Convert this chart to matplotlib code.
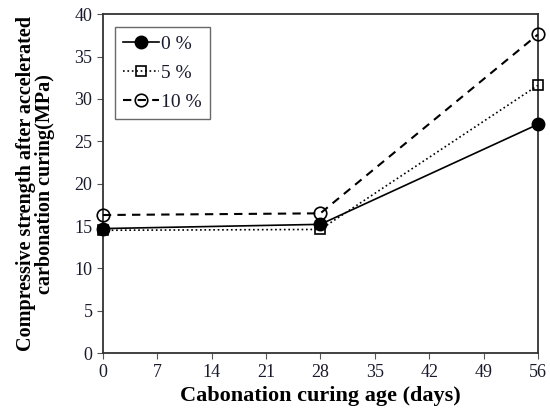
import matplotlib.pyplot as plt

# Data
days = [0, 28, 56]
s0 = [14.7, 15.2, 27.0]
s5 = [14.5, 14.6, 31.6]
s10 = [16.3, 16.5, 37.6]

plt.rcParams['font.family'] = ['Liberation Serif', 'DejaVu Serif']

fig = plt.figure(figsize=(5.5, 4.16), dpi=100)
ax = fig.add_axes([0.187, 0.151, 0.791, 0.815])

ax.plot(days, s0, '-', color='black', lw=1.2, marker='o', ms=9,
        mfc='black', mec='black', label='0 %', clip_on=False, zorder=3)
ax.plot(days, s5, ':', color='black', lw=1.2, marker='s', ms=7,
        mfc='none', mec='black', mew=1.2, label='5 %', clip_on=False, zorder=3)
ax.plot(days, s10, '--', color='black', lw=1.5, dashes=(4, 3), marker='o', ms=9,
        mfc='none', mec='black', mew=1.2, label='10 %', clip_on=False, zorder=3)

ax.set_xlim(0, 56)
ax.set_ylim(0, 40)
ax.set_xticks(range(0, 57, 7))
ax.set_yticks(range(0, 41, 5))
ax.tick_params(direction='out', length=4, labelsize=13, color='#555555', labelcolor='#1a1a2e')
for sp in ax.spines.values():
    sp.set_linewidth(1.3)
    sp.set_color('#333333')

ax.set_xlabel('Cabonation curing age (days)', fontsize=16, fontweight='bold', labelpad=4)
ax.set_ylabel('Compressive strength after accelerated\ncarbonation curing(MPa)',
              fontsize=14.5, fontweight='bold', labelpad=14, linespacing=0.95)

leg = ax.legend(loc='upper left', fontsize=14, frameon=True, fancybox=False,
                edgecolor='#444444', handlelength=1.9, borderpad=0.4,
                labelspacing=0.6, handletextpad=0.1, bbox_to_anchor=(0.005, 0.99))
leg.get_frame().set_linewidth(1.0)
for t in leg.get_texts():
    t.set_color('#1a1a2e')

fig.savefig('out.png', dpi=100)
